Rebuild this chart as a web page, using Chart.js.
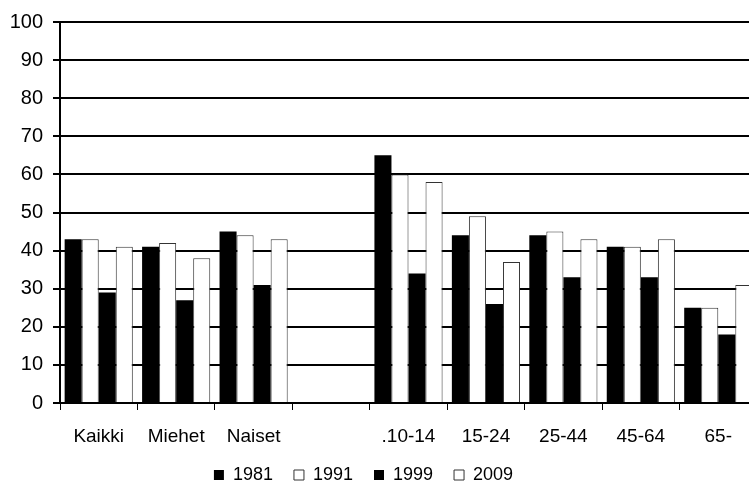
<!DOCTYPE html>
<html>
<head>
<meta charset="utf-8">
<script src="https://cdn.jsdelivr.net/npm/chart.js@4/dist/chart.umd.min.js"></script>
<style>
html,body{margin:0;padding:0;background:#fff;overflow:hidden;}
#wrap{width:760px;height:494px;position:relative;}
</style>
</head>
<body>
<div id="wrap"><canvas id="c"></canvas></div>
<script>
const categories = ["Kaikki", "Miehet", "Naiset", "", ".10-14", "15-24", "25-44", "45-64", "65-"];
const s1981 = [43, 41, 45, null, 65, 44, 44, 41, 25];
const s1991 = [43, 42, 44, null, 60, 49, 45, 41, 25];
const s1999 = [29, 27, 31, null, 34, 26, 33, 33, 18];
const s2009 = [41, 38, 43, null, 58, 37, 43, 43, 31];
const yTicks = [0, 10, 20, 30, 40, 50, 60, 70, 80, 90, 100];

const font = "'Liberation Sans', Arial, sans-serif";
const black = '#000';
const whiteBar = {backgroundColor: '#fff', borderColor: '#333', borderWidth: 1};
const blackBar = {backgroundColor: black, borderColor: black, borderWidth: 0};

const shiftLegend = {
  id: 'shiftLegend',
  afterLayout(chart) {
    const lg = chart.legend;
    if (lg) { lg.left -= 15; lg.right -= 15; }
  }
};

new Chart(document.getElementById('c'), {
  type: 'bar',
  data: {
    labels: categories,
    datasets: [
      Object.assign({label: '1981', data: s1981}, blackBar),
      Object.assign({label: '1991', data: s1991}, whiteBar),
      Object.assign({label: '1999', data: s1999}, blackBar),
      Object.assign({label: '2009', data: s2009}, whiteBar)
    ]
  },
  plugins: [shiftLegend],
  options: {
    responsive: true,
    maintainAspectRatio: false,
    animation: false,
    layout: {padding: {top: 10, left: 0, right: 3, bottom: 0}},
    datasets: {bar: {categoryPercentage: 0.88, barPercentage: 1.0}},
    plugins: {
      tooltip: {enabled: false},
      legend: {
        position: 'bottom',
        labels: {
          font: {family: font, size: 18},
          color: '#000',
          boxWidth: 10,
          boxHeight: 10,
          padding: 21
        }
      }
    },
    scales: {
      x: {
        afterFit: (scale) => { scale.height = 42; },
        grid: {display: true, drawOnChartArea: false, drawTicks: true, tickLength: 7, color: black, lineWidth: 1, offset: true},
        border: {display: true, color: black, width: 2},
        ticks: {font: {family: font, size: 19}, color: '#000', padding: 15, maxRotation: 0, autoSkip: false}
      },
      y: {
        min: 0,
        max: 100,
        afterBuildTicks: (scale) => { scale.ticks = yTicks.map(v => ({value: v})); },
        afterFit: (scale) => { scale.width = 60; },
        grid: {color: black, lineWidth: 2, tickLength: 7, drawTicks: true},
        border: {display: true, color: black, width: 2},
        ticks: {font: {family: font, size: 20}, color: '#000', padding: 10}
      }
    }
  }
});
</script>
</body>
</html>
